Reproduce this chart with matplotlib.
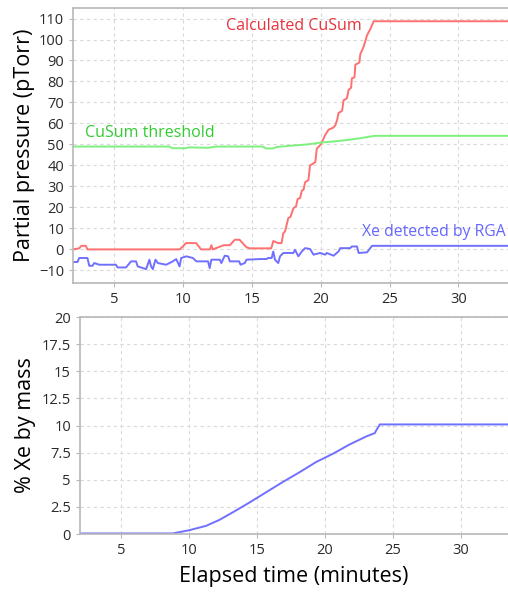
import matplotlib.pyplot as plt

plt.rcParams['font.family'] = ['Open Sans', 'DejaVu Sans']

# Top panel: partial pressure (pTorr) vs elapsed time (minutes)
cusum_t = [2.0, 2.45, 2.6, 2.93, 3.05, 9.74, 10.0, 10.2, 10.95, 11.3, 11.95, 12.05, 12.15,
           12.95, 13.4, 13.75, 14.1, 14.6, 14.85, 16.4, 16.55, 16.9, 17.15, 17.28, 17.4,
           17.64, 17.8, 18.01, 18.2, 18.32, 18.5, 18.62, 18.75, 18.86, 19.1, 19.22, 19.47,
           19.6, 19.71, 20.0, 20.32, 20.56, 20.9, 21.05, 21.2, 21.29, 21.55, 21.65, 21.9,
           22.02, 22.2, 22.26, 22.45, 22.51, 22.8, 22.87, 23.11, 23.36, 23.6, 23.84, 34.0]
cusum_p = [0.0, 0.5, 1.7, 1.7, 0.0, 0.0, 1.5, 3.0, 3.0, 0.0, 0.0, 2.0, 0.0,
           2.0, 2.0, 4.6, 4.6, 1.0, 0.5, 0.5, 4.0, 3.0, 3.0, 7.8, 8.5,
           14.9, 15.5, 19.6, 20.5, 24.0, 24.5, 28.0, 28.5, 32.0, 33.0, 40.0, 41.0,
           41.5, 48.0, 50.0, 54.5, 57.0, 58.0, 59.0, 62.0, 65.0, 66.0, 71.0, 72.0,
           76.0, 77.0, 81.5, 82.0, 88.0, 89.0, 93.0, 96.5, 102.0, 105.0, 108.7, 108.7]

thresh_t = [2.0, 9.0, 9.2, 10.2, 10.4, 11.8, 12.4, 15.8, 16.0, 16.5, 16.8, 18.0, 19.0,
            20.0, 20.9, 21.9, 22.9, 23.9, 34.0]
thresh_p = [49.0, 49.0, 48.2, 48.2, 48.6, 48.4, 49.0, 49.0, 48.1, 48.1, 48.8, 49.5, 50.0,
            50.9, 51.4, 52.1, 53.0, 54.1, 54.1]

rga_t = [2.0, 2.33, 2.45, 3.05, 3.18, 3.42, 3.54, 3.91, 5.12, 5.24, 5.85, 6.22, 6.58, 6.70,
         7.31, 7.55, 7.67, 7.80, 7.99, 8.16, 8.77, 9.25, 9.50, 9.74, 9.86, 10.23, 10.71,
         10.96, 11.81, 11.93, 12.05, 12.66, 12.78, 13.02, 13.27, 13.39, 14.07, 14.17, 14.48,
         14.60, 15.58, 16.06, 16.18, 16.43, 16.55, 16.67, 16.91, 17.04, 17.28, 18.01, 18.13,
         18.37, 18.62, 18.86, 19.22, 19.47, 19.95, 20.32, 20.44, 20.93, 21.29, 21.41, 22.14,
         22.26, 22.63, 22.75, 23.36, 23.72, 23.96, 34.0]
rga_p = [-6.0, -6.0, -4.1, -4.1, -7.8, -7.8, -6.5, -7.3, -7.3, -8.6, -8.6, -5.7, -5.7, -8.1,
         -9.4, -4.9, -8.1, -9.4, -4.9, -6.5, -7.3, -5.7, -4.6, -8.1, -4.1, -3.3, -4.1,
         -5.7, -5.7, -8.9, -4.9, -4.9, -6.5, -3.0, -3.3, -5.7, -5.7, -7.3, -6.5,
         -4.9, -4.6, -4.6, -4.1, -4.1, -1.0, -4.9, -6.5, -3.3, -1.7, -1.7, -0.2,
         -3.3, -1.0, 0.6, 0.2, -2.5, -1.7, -2.5, -1.7, -3.0, -1.0, 0.6, 0.6,
         1.4, 1.4, -1.7, -1.4, 1.7, 1.7, 1.7]

# Bottom panel: % Xe by mass
mass_t = [2.0, 8.81, 10.03, 11.26, 12.24, 13.23, 14.45, 15.68, 16.91, 18.14, 19.37,
          20.59, 21.82, 23.05, 23.66, 23.79, 24.03, 34.0]
mass_pct = [0.05, 0.05, 0.35, 0.75, 1.3, 2.0, 2.9, 3.85, 4.8, 5.7, 6.65,
            7.4, 8.26, 9.0, 9.3, 9.6, 10.1, 10.1]

x_ticks = [5, 10, 15, 20, 25, 30]
top_yticks = list(range(-10, 111, 10))
bottom_yticks = [0, 2.5, 5, 7.5, 10, 12.5, 15, 17.5, 20]

fig = plt.figure(figsize=(5.08, 5.94), dpi=100)
ax1 = fig.add_axes([0.1437, 0.5236, 0.8563, 0.4629])
ax2 = fig.add_axes([0.1575, 0.101, 0.8425, 0.3653])


def style(ax):
    ax.grid(True, color='#d9d9d9', linestyle=(0, (3, 3)), linewidth=0.8)
    ax.set_axisbelow(True)
    for side in ['left', 'top', 'bottom']:
        ax.spines[side].set_color('#b8b8b8')
        ax.spines[side].set_linewidth(1.2)
    ax.spines['right'].set_visible(False)
    ax.tick_params(colors='#b8b8b8', labelcolor='#2a2a2a', labelsize=10.5, length=3)
    ax.set_xticks(x_ticks)


ax1.plot(cusum_t, cusum_p, color='#ff7070', lw=1.4)
ax1.plot(thresh_t, thresh_p, color='#7ef07e', lw=1.4)
ax1.plot(rga_t, rga_p, color='#7070ff', lw=1.4)
ax1.set_xlim(2, 33.6)
ax1.set_ylim(-16, 115)
ax1.set_yticks(top_yticks)
style(ax1)
ax1.set_ylabel('Partial pressure (pTorr)', fontsize=15.5, labelpad=3)
ax1.text(23.0, 106.5, 'Calculated CuSum', color='#e8323c', fontsize=11.5, ha='right', va='center')
ax1.text(2.9, 55.5, 'CuSum threshold', color='#33cc33', fontsize=11.5, ha='left', va='center')
ax1.text(33.45, 8.4, 'Xe detected by RGA', color='#6666ff', fontsize=11.3, ha='right', va='center')

ax2.plot(mass_t, mass_pct, color='#7070ff', lw=1.4)
ax2.set_xlim(2, 33.45)
ax2.set_ylim(0, 20)
ax2.set_yticks(bottom_yticks)
ax2.set_yticklabels(['0', '2.5', '5', '7.5', '10', '12.5', '15', '17.5', '20'])
style(ax2)
ax2.set_ylabel('% Xe by mass', fontsize=15.5, labelpad=4)
ax2.set_xlabel('Elapsed time (minutes)', fontsize=15.5, labelpad=6)

fig.savefig('out.png', dpi=100)
